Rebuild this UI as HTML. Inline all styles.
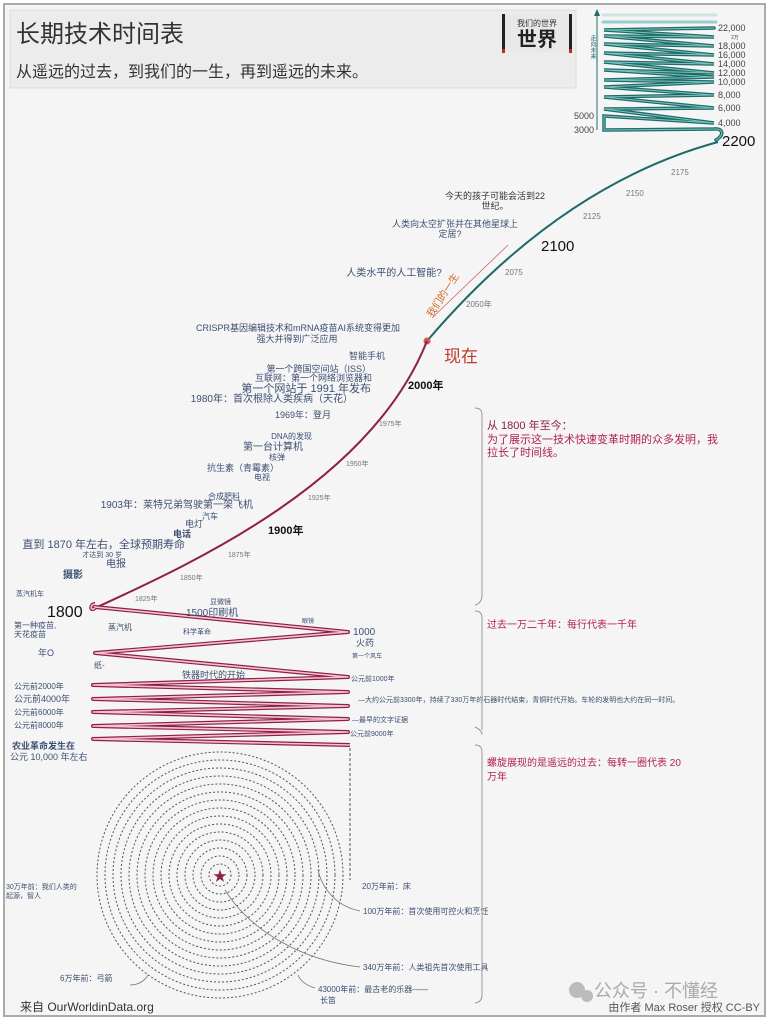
<!DOCTYPE html>
<html><head><meta charset="utf-8"><style>
html,body{margin:0;padding:0;background:#fff}
svg{display:block}
text{font-family:"Liberation Sans","Noto Sans CJK SC",sans-serif}
.b{fill:#3d4f72;font-size:9px}
.g{fill:#777;font-size:8px}
.d{fill:#333;font-size:9px}
.r{fill:#b0234e;font-size:11px}
</style></head><body>
<svg width="769" height="1022" viewBox="0 0 769 1022" xmlns="http://www.w3.org/2000/svg">
<rect x="0" y="0" width="769" height="1022" fill="#fff"/>
<rect x="4" y="4" width="761" height="1012" fill="#f5f5f5" stroke="#aaa" stroke-width="2"/>
<rect x="10" y="10" width="566" height="78" fill="#ececec" stroke="#ddd"/>
<text x="16" y="42" style="font-size:24px;fill:#333">长期技术时间表</text>
<text x="16" y="77" style="font-size:16px;fill:#333">从遥远的过去，到我们的一生，再到遥远的未来。</text>
<rect x="502" y="14" width="70" height="38" fill="#e8e8ea"/>
<rect x="502" y="14" width="3" height="38" fill="#222"/><rect x="569" y="14" width="3" height="38" fill="#222"/>
<rect x="502" y="49" width="3" height="4" fill="#c22"/><rect x="569" y="49" width="3" height="4" fill="#c22"/>
<text x="537" y="26" text-anchor="middle" style="font-size:8px;fill:#333">我们的世界</text>
<text x="537" y="46" text-anchor="middle" style="font-size:20px;fill:#222;font-weight:bold">世界</text>

<line x1="597" y1="130" x2="597" y2="12" stroke="#1f6b6b" stroke-width="1"/>
<path d="M594,16 L597,9 L600,16Z" fill="#1f6b6b"/>
<text x="592" y="35" style="font-size:6px;fill:#1f6b6b;writing-mode:tb">走向未来</text>
<g fill="none" stroke-linecap="round">
<path d="M603,15 L716,15" stroke="#cfe3e3" stroke-width="3"/>
<path d="M603,22 L716,22" stroke="#9cc" stroke-width="3"/>
<path d="M716,140 C724,136 724,128 714,129 L604,130 L604,116 L714,123 L604,109 L714,108 L604,97 L714,95 L604,87 L714,82 L604,80 L714,77 L604,70 L714,73 L604,62 L714,64 L604,53 L714,55 L604,44 L714,46 L604,36 L714,37 L604,30 L714,28" stroke="#1f6b6b" stroke-width="3.5"/>
<path d="M716,140 C724,136 724,128 714,129 L604,130 L604,116 L714,123 L604,109 L714,108 L604,97 L714,95 L604,87 L714,82 L604,80 L714,77 L604,70 L714,73 L604,62 L714,64 L604,53 L714,55 L604,44 L714,46 L604,36 L714,37 L604,30 L714,28" stroke="#bfe" stroke-width="1" opacity="0.6"/>
</g>
<g style="font-size:9px;fill:#444">
<text x="718" y="31">22,000</text><text x="731" y="39" style="font-size:5px">2万</text>
<text x="718" y="49">18,000</text><text x="718" y="58">16,000</text><text x="718" y="67">14,000</text>
<text x="718" y="76">12,000</text><text x="718" y="85">10,000</text><text x="718" y="98">8,000</text>
<text x="718" y="111">6,000</text><text x="718" y="126">4,000</text>
<text x="574" y="119">5000</text><text x="574" y="133">3000</text>
</g>
<text x="722" y="146" style="font-size:15px;fill:#111">2200</text>
<path d="M427,341 Q 560,185 718,142" fill="none" stroke="#1f6b6b" stroke-width="2"/>
<g class="g"><text x="466" y="307">2050年</text><text x="505" y="275">2075</text><text x="671" y="175">2175</text><text x="626" y="196">2150</text><text x="583" y="219">2125</text></g>
<text x="541" y="251" style="font-size:15px;fill:#111">2100</text>
<text x="495" y="199" text-anchor="middle" class="d">今天的孩子可能会活到22</text>
<text x="495" y="209" text-anchor="middle" class="d">世纪。</text>
<text x="455" y="227" text-anchor="middle" class="b">人类向太空扩张并在其他星球上</text>
<text x="450" y="237" text-anchor="middle" class="b">定居?</text>
<text x="394" y="276" text-anchor="middle" style="font-size:10px;fill:#3d4f72">人类水平的人工智能?</text>
<line x1="432" y1="318" x2="508" y2="245" stroke="#c66" stroke-width="0.8"/>
<text x="0" y="0" transform="translate(432,318) rotate(-57)" style="font-size:10px;fill:#d2691e">我们的一生</text>
<text x="298" y="331" text-anchor="middle" class="b">CRISPR基因编辑技术和mRNA疫苗AI系统变得更加</text>
<text x="297" y="342" text-anchor="middle" class="b">强大并得到广泛应用</text>
<circle cx="427" cy="341" r="3.5" fill="#d9534f"/>
<text x="444" y="362" style="font-size:17px;fill:#c0392b">现在</text>

<path d="M427,341 C372,480 200,560 95,608" fill="none" stroke="#8e1f45" stroke-width="2"/>
<text x="408" y="389" style="font-size:11px;fill:#111;font-weight:bold">2000年</text>
<text x="268" y="534" style="font-size:11px;fill:#111;font-weight:bold">1900年</text>
<g class="g" style="font-size:7px"><text x="379" y="426">1975年</text><text x="346" y="466">1950年</text><text x="308" y="500">1925年</text><text x="228" y="557">1875年</text><text x="180" y="580">1850年</text><text x="135" y="601">1825年</text></g>
<g class="b" text-anchor="end">
<text x="385" y="359">智能手机</text>
<text x="371" y="372">第一个跨国空间站（ISS）</text>
<text x="372" y="381">互联网：第一个网络浏览器和</text>
<text x="371" y="392" style="font-size:11px">第一个网站于 1991 年发布</text>
<text x="353" y="402" style="font-size:10px">1980年：首次根除人类疾病（天花）</text>
<text x="331" y="418">1969年：登月</text>
<text x="312" y="439" style="font-size:8px">DNA的发现</text>
<text x="303" y="450" style="font-size:10px">第一台计算机</text>
<text x="285" y="460" style="font-size:8px">核弹</text>
<text x="279" y="471">抗生素（青霉素）</text>
<text x="270" y="480" style="font-size:8px">电视</text>
<text x="240" y="499" style="font-size:8px">合成肥料</text>
<text x="253" y="508" style="font-size:10px">1903年：莱特兄弟驾驶第一架飞机</text>
<text x="218" y="519" style="font-size:8px">汽车</text>
<text x="203" y="527">电灯</text>
<text x="191" y="537" style="font-weight:bold">电话</text>
<text x="185" y="548" style="font-size:11px">直到 1870 年左右，全球预期寿命</text>
<text x="122" y="557" style="font-size:7px">才达到 30 岁</text>
<text x="126" y="567" style="font-size:10px">电报</text>
<text x="83" y="578" style="font-weight:bold;font-size:10px">摄影</text>
<text x="44" y="596" style="font-size:7px">蒸汽机车</text>
</g>
<text x="47" y="617" style="font-size:16px;fill:#111">1800</text>

<g fill="none" stroke-linejoin="round">
<path id="zz" d="M95,608 C90,612 90,604 95,604 M95,607 L348,632 L95,653 L348,677 L93,685 L348,692 L93,699 L348,706 L93,712 L348,719 L93,726 L348,732 L93,739 L350,745"/>
<use href="#zz" stroke="#8e1f45" stroke-width="4"/>
<use href="#zz" stroke="#f4c3cf" stroke-width="1.6"/>
</g>
<line x1="350" y1="748" x2="350" y2="880" stroke="#555" stroke-width="1" stroke-dasharray="3,2"/>
<g class="b" style="font-size:8px">
<text x="210" y="604" style="font-size:7px">显微镜</text>
<text x="186" y="616" style="font-size:10px">1500印刷机</text>
<text x="302" y="623" style="font-size:6px">眼镜</text>
<text x="14" y="628">第一种疫苗,</text><text x="14" y="637">天花疫苗</text>
<text x="108" y="630">蒸汽机</text>
<text x="183" y="634" style="font-size:7px">科学革命</text>
<text x="353" y="635" style="font-size:10px">1000</text>
<text x="356" y="646" style="font-size:9px">火药</text>
<text x="352" y="658" style="font-size:6px">第一个风车</text>
<text x="38" y="656" style="font-size:9px">年O</text>
<text x="94" y="668">纸-</text>
<text x="182" y="678" style="font-size:9px">铁器时代的开始</text>
<text x="351" y="681" style="font-size:7px">公元前1000年</text>
<text x="14" y="689">公元前2000年</text>
<text x="14" y="702" style="font-size:9px">公元前4000年</text>
<text x="14" y="715">公元前6000年</text>
<text x="14" y="728">公元前8000年</text>
<text x="358" y="702" style="font-size:7px">—大约公元前3300年，持续了330万年的石器时代结束，青铜时代开始。车轮的发明也大约在同一时间。</text>
<text x="352" y="722" style="font-size:7px">—最早的文字证据</text>
<text x="350" y="736" style="font-size:7px">公元前9000年</text>
<text x="12" y="749" style="font-size:9px;font-weight:bold">农业革命发生在</text>
<text x="10" y="760" style="font-size:9px">公元 10,000 年左右</text>
</g>

<g fill="none" stroke="#555" stroke-width="1" stroke-dasharray="2,2">
<circle cx="220" cy="875" r="123"/><circle cx="220" cy="875" r="115"/><circle cx="220" cy="875" r="107"/>
<circle cx="220" cy="875" r="99"/><circle cx="220" cy="875" r="91"/><circle cx="220" cy="875" r="83"/>
<circle cx="220" cy="875" r="75"/><circle cx="220" cy="875" r="67"/><circle cx="220" cy="875" r="59"/>
<circle cx="220" cy="875" r="51"/><circle cx="220" cy="875" r="43"/><circle cx="220" cy="875" r="35"/>
<circle cx="220" cy="875" r="27"/><circle cx="220" cy="875" r="19"/><circle cx="220" cy="875" r="11"/>
</g>
<text x="220" y="881" text-anchor="middle" style="font-size:14px;fill:#8e1f45">★</text>
<g fill="none" stroke="#777" stroke-width="0.8">
<path d="M360,967 C300,960 250,930 225,890"/>
<path d="M360,911 C330,905 320,880 318,870"/>
<path d="M315,988 C305,985 300,980 298,975"/>
<path d="M130,985 C140,985 145,980 148,975"/>
</g>
<g class="b" style="font-size:8px">
<text x="6" y="889" style="font-size:7px">30万年前：我们人类的</text><text x="6" y="898" style="font-size:7px">起源，智人</text>
<text x="362" y="889">20万年前：床</text>
<text x="363" y="914">100万年前：首次使用可控火和烹饪</text>
<text x="363" y="970">340万年前：人类祖先首次使用工具</text>
<text x="60" y="981">6万年前：弓箭</text>
<text x="318" y="992">43000年前：最古老的乐器——</text><text x="320" y="1003">长笛</text>
</g>
<text x="20" y="1011" style="font-size:12px;fill:#333">来自 OurWorldinData.org</text>
<text x="760" y="1011" text-anchor="end" style="font-size:11px;fill:#555">由作者 Max Roser 授权 CC-BY</text>
<circle cx="577" cy="990" r="8" fill="#bbb"/><circle cx="587" cy="996" r="6" fill="#bbb"/>
<text x="594" y="997" style="font-size:18px;fill:#aaa">公众号 · 不懂经</text>

<g fill="none" stroke="#999" stroke-width="1">
<path d="M475,408 Q482,408 482,415 L482,595 Q482,603 475,605"/>
<path d="M475,611 Q482,611 482,618 L482,730"/>
<path d="M475,727 Q482,730 482,735 M475,745 Q482,745 482,752 L482,995 Q482,1002 475,1003"/>
</g>
<text x="487" y="429" class="r" style="fill:#8e1f45">从 1800 年至今：</text>
<text x="487" y="443" class="r">为了展示这一技术快速变革时期的众多发明，我</text>
<text x="487" y="456" class="r">拉长了时间线。</text>
<text x="487" y="628" class="r" style="font-size:10px">过去一万二千年：每行代表一千年</text>
<text x="487" y="766" class="r" style="font-size:10px">螺旋展现的是遥远的过去：每转一圈代表 20</text>
<text x="487" y="780" class="r" style="font-size:10px">万年</text>
</svg>
</body></html>
